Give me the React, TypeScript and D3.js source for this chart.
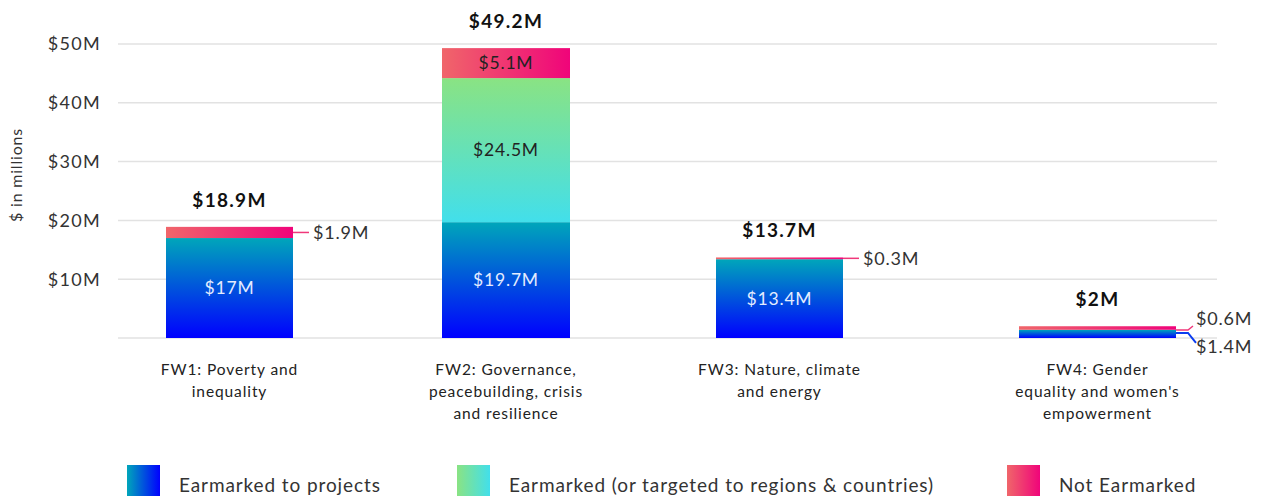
import React, { useEffect, useRef } from 'react';
import * as d3 from 'd3';

const categories = ['FW1', 'FW2', 'FW3', 'FW4'];
const categoryLabels = [
  ['FW1: Poverty and', 'inequality'],
  ['FW2: Governance,', 'peacebuilding, crisis', 'and resilience'],
  ['FW3: Nature, climate', 'and energy'],
  ['FW4: Gender', "equality and women's", 'empowerment'],
];
const projects = [17, 19.7, 13.4, 1.4];
const regions = [0, 24.5, 0, 0];
const notEarmarked = [1.9, 5.1, 0.3, 0.6];
const totals = [18.9, 49.2, 13.7, 2];
const yTicks = [10, 20, 30, 40, 50];
const seriesNames = ['Earmarked to projects', 'Earmarked (or targeted to regions & countries)', 'Not Earmarked'];

const W = 1266;
const H = 496;
const FONT = 'Lato, "Open Sans", sans-serif';

const fmt = (v: number) => '$' + v + 'M';

export default function App() {
  const ref = useRef<SVGSVGElement | null>(null);

  useEffect(() => {
    const svg = d3.select(ref.current);
    svg.selectAll('*').remove();

    const defs = svg.append('defs');
    const grad = (id: string, c1: string, c2: string, vertical: boolean) => {
      const g = defs.append('linearGradient').attr('id', id)
        .attr('x1', 0).attr('y1', 0)
        .attr('x2', vertical ? 0 : 1).attr('y2', vertical ? 1 : 0);
      g.append('stop').attr('offset', '0%').attr('stop-color', c1);
      g.append('stop').attr('offset', '100%').attr('stop-color', c2);
    };
    grad('blueV', '#00a6ba', '#0000ff', true);
    grad('greenV', '#8ae383', '#42dfeb', true);
    grad('redH', '#f0666a', '#f0047a', false);
    grad('blueH', '#00a6ba', '#0000ff', false);
    grad('greenH', '#8ae383', '#42dfeb', false);

    const y = d3.scaleLinear().domain([0, 50]).range([338, 44]);
    // columns are not evenly spaced in the original; last one is wider
    const xc = d3.scaleOrdinal<string, number>().domain(categories).range([229.5, 506, 779.5, 1097.5]);
    const bw = d3.scaleOrdinal<string, number>().domain(categories).range([127, 128, 127, 157]);

    // gridlines
    svg.append('g').selectAll('line')
      .data([0, ...yTicks])
      .enter().append('line')
      .attr('x1', 118).attr('x2', 1217)
      .attr('y1', d => y(d)).attr('y2', d => y(d))
      .attr('stroke', '#e2e2e2').attr('stroke-width', 1.5);

    svg.append('g').selectAll('text')
      .data(yTicks)
      .enter().append('text')
      .attr('x', 101).attr('y', d => y(d))
      .attr('dy', '0.35em')
      .attr('text-anchor', 'end')
      .attr('font-family', FONT).attr('font-size', 18).attr('letter-spacing', 1.3).attr('fill', '#333')
      .text(d => '$' + d + 'M');

    svg.append('text')
      .attr('transform', `translate(22,${175}) rotate(-90)`)
      .attr('text-anchor', 'middle')
      .attr('font-family', FONT).attr('font-size', 16).attr('letter-spacing', 0.8).attr('fill', '#333')
      .text('$ in millions');

    const g = svg.append('g');
    categories.forEach((c, i) => {
      const w = bw(c);
      const cx = xc(c);
      const x0 = cx - w / 2;
      const p = projects[i], r = regions[i], n = notEarmarked[i];
      const yp = y(p), yr = y(p + r), yn = y(p + r + n);
      g.append('rect').attr('x', x0).attr('y', yp).attr('width', w).attr('height', y(0) - yp).attr('fill', 'url(#blueV)');
      if (r > 0) g.append('rect').attr('x', x0).attr('y', yr).attr('width', w).attr('height', yp - yr).attr('fill', 'url(#greenV)');
      g.append('rect').attr('x', x0).attr('y', yn).attr('width', w).attr('height', yr - yn).attr('fill', 'url(#redH)');

      // total label
      g.append('text').attr('x', cx).attr('y', yn - 20)
        .attr('text-anchor', 'middle').attr('font-family', FONT).attr('font-weight', 700)
        .attr('font-size', 19).attr('letter-spacing', 1.3).attr('fill', '#111').text(fmt(totals[i]));

      const inside = (v: number, top: number, bot: number, col: string) =>
        g.append('text').attr('x', cx).attr('y', (top + bot) / 2).attr('dy', '0.35em')
          .attr('text-anchor', 'middle').attr('font-family', FONT)
          .attr('font-size', 17.5).attr('letter-spacing', 0.8).attr('fill', col).text(fmt(v));

      const side = (v: number, tx: number, ty: number) =>
        g.append('text').attr('x', tx).attr('y', ty).attr('dy', '0.35em')
          .attr('font-family', FONT).attr('font-size', 18).attr('letter-spacing', 0.8)
          .attr('fill', '#333').text(fmt(v));

      if (i === 3) {
        // small bar: callouts on right side
        const xe = x0 + w;
        const ym = (yn + yr) / 2;
        g.append('path').attr('d', `M${xe},${ym + 2}H${xe + 12}L${xe + 17},${ym - 2}`)
          .attr('fill', 'none').attr('stroke', '#f0377a').attr('stroke-width', 1.5);
        side(n, xe + 20, ym - 9);
        const yb = (yp + y(0)) / 2;
        g.append('path').attr('d', `M${xe},${yb - 1}H${xe + 12}L${xe + 20},${yb + 9}`)
          .attr('fill', 'none').attr('stroke', '#0a3cf0').attr('stroke-width', 2);
        side(p, xe + 20, yb + 13);
      } else {
        inside(p, yp, y(0), '#e4ecff');
        if (r > 0) inside(r, yr, yp, '#222');
        if (yr - yn > 20) {
          inside(n, yn, yr, '#222');
        } else {
          const xe = x0 + w;
          const ym = (yn + yr) / 2;
          g.append('line').attr('x1', xe).attr('x2', xe + 16).attr('y1', ym).attr('y2', ym)
            .attr('stroke', '#f0377a').attr('stroke-width', 1.5);
          side(n, xe + 20, ym);
        }
      }

      // category label
      const t = g.append('text').attr('text-anchor', 'middle')
        .attr('font-family', FONT).attr('font-size', 15.5).attr('letter-spacing', 0.9).attr('fill', '#222');
      categoryLabels[i].forEach((line, k) => {
        t.append('tspan').attr('x', cx).attr('y', 375 + k * 22).text(line);
      });
    });

    // legend
    const legendX = [127, 457, 1007];
    const legendFill = ['url(#blueH)', 'url(#greenH)', 'url(#redH)'];
    seriesNames.forEach((s, i) => {
      svg.append('rect').attr('x', legendX[i]).attr('y', 465).attr('width', 33).attr('height', 33)
        .attr('fill', legendFill[i]);
      svg.append('text').attr('x', legendX[i] + 52).attr('y', 485).attr('dy', '0.35em')
        .attr('font-family', FONT).attr('font-size', 19).attr('letter-spacing', 0.9)
        .attr('fill', '#333').text(s);
    });
  }, []);

  return (
    <svg ref={ref} width={W} height={H}
      style={{ position: 'absolute', left: 0, top: 0, background: '#fff' }} />
  );
}
